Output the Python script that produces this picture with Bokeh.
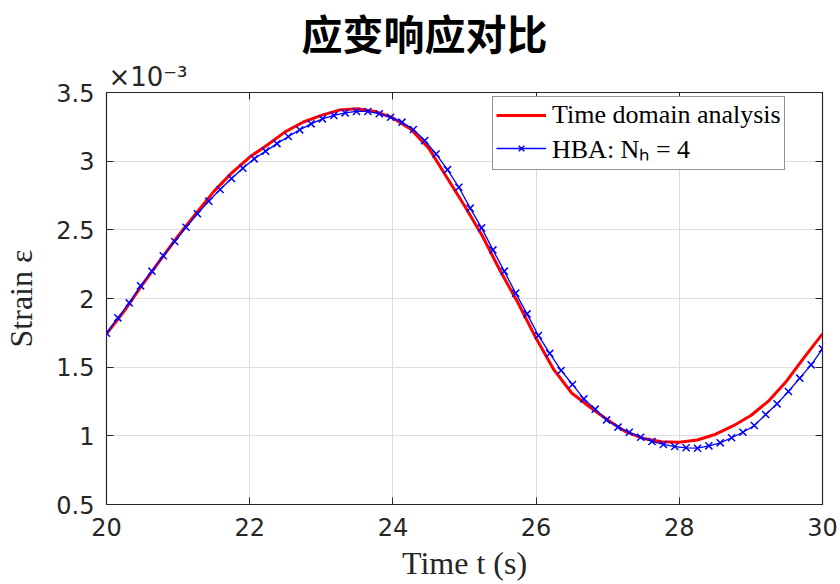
from bokeh.plotting import figure
from bokeh.models import (LinearAxis, Legend, LegendItem, Title,
                          CustomJSTickFormatter, FixedTicker)
from bokeh.embed import file_html
from bokeh.resources import INLINE
import numpy as np

# ---- data (strain in units of 1e-3) ----
t_time = np.arange(20.0, 30.0 + 1e-9, 0.25)
strain_time = [1.743, 1.910, 2.100, 2.280, 2.455, 2.620, 2.780, 2.915, 3.030,
               3.120, 3.215, 3.285, 3.333, 3.372, 3.381, 3.362, 3.315, 3.232,
               3.095, 2.885, 2.675, 2.455, 2.200, 1.965, 1.710, 1.480, 1.310,
               1.210, 1.115, 1.030, 0.980, 0.957, 0.953, 0.970, 1.010, 1.072,
               1.148, 1.255, 1.400, 1.575, 1.743]

t_hba = np.linspace(20.0, 30.0, 64)
strain_hba = [1.747, 1.859, 1.968, 2.092, 2.199, 2.311, 2.415, 2.519, 2.617,
              2.709, 2.794, 2.874, 2.949, 3.017, 3.073, 3.128, 3.180, 3.228,
              3.272, 3.308, 3.333, 3.352, 3.362, 3.362, 3.345, 3.320, 3.284,
              3.231, 3.150, 3.052, 2.938, 2.810, 2.658, 2.514, 2.354, 2.199,
              2.039, 1.888, 1.731, 1.600, 1.476, 1.374, 1.269, 1.194, 1.116,
              1.063, 1.026, 0.990, 0.959, 0.937, 0.922, 0.913, 0.910, 0.927,
              0.949, 0.986, 1.026, 1.075, 1.155, 1.233, 1.323, 1.420, 1.517,
              1.634]

x_ticks = [20, 22, 24, 26, 28, 30]
y_ticks = [0.5, 1, 1.5, 2, 2.5, 3, 3.5]

AX = "#262626"

p = figure(width=840, height=584, x_range=(20, 30), y_range=(0.5, 3.5),
           output_backend="svg", toolbar_location=None,
           min_border_left=105, min_border_right=18,
           min_border_top=92, min_border_bottom=80,
           background_fill_color="white", border_fill_color="white")
p.title = None

p.outline_line_color = AX
p.outline_line_width = 1.2

num_fmt = CustomJSTickFormatter(code="return tick.toString();")
blank_fmt = CustomJSTickFormatter(code="return '';")

for ax in p.xaxis + p.yaxis:
    ax.axis_line_color = AX
    ax.major_tick_line_color = AX
    ax.major_tick_in = 7
    ax.major_tick_out = 0
    ax.minor_tick_line_color = None
    ax.major_label_text_font = "DejaVu Sans"
    ax.major_label_text_font_size = "24px"
    ax.major_label_text_color = AX
    ax.formatter = num_fmt
    ax.axis_label_text_font = "Liberation Serif"
    ax.axis_label_text_font_style = "normal"
    ax.axis_label_text_color = AX

p.xaxis.ticker = FixedTicker(ticks=x_ticks)
p.yaxis.ticker = FixedTicker(ticks=y_ticks)
p.xaxis.major_label_standoff = 13
p.yaxis.major_label_standoff = 12
p.xaxis.axis_label = "Time t (s)"
p.yaxis.axis_label = "Strain ε"
p.xaxis.axis_label_text_font_size = "32px"
p.yaxis.axis_label_text_font_size = "32px"
p.xaxis.axis_label_standoff = 6
p.yaxis.axis_label_standoff = 14

# mirror ticks on the top and right edges (box style)
for loc, ticks in (("above", x_ticks), ("right", y_ticks)):
    mirror = LinearAxis(ticker=FixedTicker(ticks=ticks), formatter=blank_fmt,
                        axis_line_color=AX, major_tick_line_color=AX,
                        major_tick_in=7, major_tick_out=0,
                        minor_tick_line_color=None, major_label_standoff=0,
                        major_label_text_font_size="0px")
    p.add_layout(mirror, loc)

# axis multiplier, then the chart title above it
p.add_layout(Title(text="×10⁻³", align="left", offset=2, standoff=2,
                   text_font="DejaVu Sans", text_font_size="26px",
                   text_font_style="normal", text_color=AX), "above")
p.add_layout(Title(text="应变响应对比", align="left", offset=195, standoff=-6,
                   text_font="Noto Sans CJK SC", text_font_size="41px",
                   text_font_style="bold", text_color="#000000"), "above")

p.xgrid.ticker = FixedTicker(ticks=x_ticks)
p.ygrid.ticker = FixedTicker(ticks=y_ticks)
p.grid.grid_line_color = "#dedede"
p.grid.grid_line_width = 1

# curves
r_time = p.line(t_time, strain_time, line_color="#ff0000", line_width=3)
r_hba_line = p.line(t_hba, strain_hba, line_color="#0000ff", line_width=1.3)
r_hba_pts = p.scatter(t_hba, strain_hba, marker="x", size=10,
                      line_color="#0000ff", line_width=1.5)

legend = Legend(items=[
    LegendItem(label="Time domain analysis", renderers=[r_time]),
    LegendItem(label="HBA: Nₕ = 4", renderers=[r_hba_line, r_hba_pts]),
], location=(386, 334))
legend.label_text_font = "Liberation Serif"
legend.label_text_font_size = "26px"
legend.label_text_color = "#000000"
legend.glyph_width = 50
legend.label_standoff = 6
legend.padding = 3
legend.spacing = 0
legend.margin = 0
legend.border_line_color = AX
legend.border_line_width = 1
legend.background_fill_color = "white"
legend.background_fill_alpha = 1
p.add_layout(legend)

open("out.html", "w").write(file_html(p, INLINE))
